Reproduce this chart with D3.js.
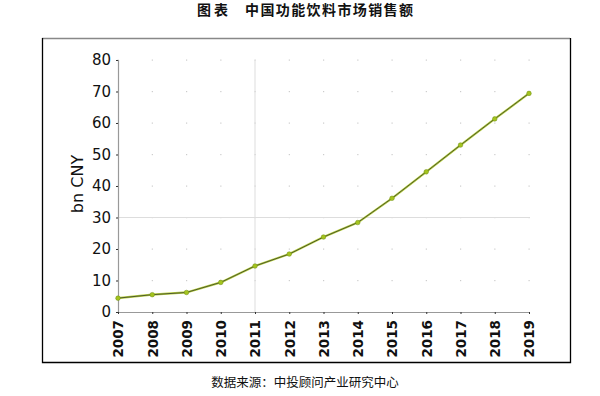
<!DOCTYPE html>
<html><head><meta charset="utf-8">
<script src="https://cdn.jsdelivr.net/npm/d3@7"></script>
<style>body{margin:0;background:#fff;} svg{display:block;}</style>
</head><body>
<svg id="c" width="600" height="396"></svg>
<script>
const years = ["2007","2008","2009","2010","2011","2012","2013","2014","2015","2016","2017","2018","2019"];
const sales = [4.4, 5.5, 6.2, 9.4, 14.6, 18.4, 23.8, 28.4, 36.1, 44.5, 53.0, 61.3, 69.4];
const yTicks = [0,10,20,30,40,50,60,70,80];
const titleA = "图表";
const titleB = "中国功能饮料市场销售额";
const source = "数据来源：中投顾问产业研究中心";
const yLabel = "bn CNY";

const svg = d3.select("#c");
const m = {l:118, r:529, t:60, b:312};
const x = d3.scalePoint().domain(years).range([m.l, m.r]);
const y = d3.scaleLinear().domain([0,80]).range([m.b, m.t]);

// title
svg.append("text").attr("x",197).attr("y",15)
  .attr("font-family","Noto Sans CJK SC").attr("font-weight","bold").attr("font-size",14)
  .attr("letter-spacing",3).attr("fill","#111").text(titleA);
svg.append("text").attr("x",245).attr("y",15)
  .attr("font-family","Noto Sans CJK SC").attr("font-weight","bold").attr("font-size",14)
  .attr("letter-spacing",1.4).attr("fill","#111").text(titleB);

// box
svg.append("line").attr("x1",42).attr("x2",570).attr("y1",38.5).attr("y2",38.5).attr("stroke","#888").attr("stroke-width",1.5);
svg.append("path").attr("d","M42.5,38 V362.5 H570.5 V38").attr("fill","none").attr("stroke","#000").attr("stroke-width",1.3);

// grid dots at intersections
const g = svg.append("g");
years.forEach(yr => yTicks.forEach(v => {
  if (v===0) return;
  g.append("rect").attr("x",x(yr)-0.5).attr("y",y(v)-0.5).attr("width",1.2).attr("height",1.2).attr("fill","#ccc");
}));
// highlighted grid lines
g.append("line").attr("x1",m.l).attr("x2",m.r).attr("y1",y(30)).attr("y2",y(30)).attr("stroke","#ddd").attr("stroke-width",1);
g.append("line").attr("x1",x("2011")).attr("x2",x("2011")).attr("y1",m.t).attr("y2",m.b).attr("stroke","#ddd").attr("stroke-width",1);

// axes
const ya = svg.append("g").attr("transform",`translate(${m.l},0)`)
  .call(d3.axisLeft(y).tickValues(yTicks).tickSize(2).tickPadding(5));
ya.select(".domain").attr("stroke","#999").attr("stroke-width",1.2);
ya.selectAll(".tick line").attr("stroke","#333");
ya.selectAll("text").attr("font-family","DejaVu Sans").attr("font-size",15).attr("fill","#111");

const xa = svg.append("g").attr("transform",`translate(0,${m.b})`)
  .call(d3.axisBottom(x).tickSize(2).tickSizeOuter(0));
xa.select(".domain").attr("stroke","#999").attr("stroke-width",1.2);
xa.selectAll(".tick line").attr("stroke","#333");
xa.selectAll("text").attr("font-family","DejaVu Sans").attr("font-weight","bold").attr("font-size",13.5).attr("fill","#111")
  .attr("transform","rotate(-90)").attr("text-anchor","end").attr("x",-8).attr("y",0).attr("dy","0.36em");

svg.append("text").attr("transform","translate(83,184) rotate(-90)").attr("text-anchor","middle")
  .attr("font-family","DejaVu Sans").attr("font-size",16).attr("fill","#111").text(yLabel);

// line
const line = d3.line().x((d,i)=>x(years[i])).y(d=>y(d));
svg.append("path").datum(sales).attr("d",line).attr("fill","none").attr("stroke","#b8d040").attr("stroke-width",2.2);
svg.append("path").datum(sales).attr("d",line).attr("fill","none").attr("stroke","#4f5a2c").attr("stroke-width",1);
svg.selectAll("circle.pt").data(sales).enter().append("circle").attr("class","pt")
  .attr("cx",(d,i)=>x(years[i])).attr("cy",d=>y(d)).attr("r",2.3).attr("fill","#a4c41e").attr("stroke","#6d8a14").attr("stroke-width",0.5);

// source
svg.append("text").attr("x",305).attr("y",387).attr("text-anchor","middle")
  .attr("font-family","Noto Sans CJK SC").attr("font-size",12.5).attr("fill","#111").text(source);
</script>
</body></html>
